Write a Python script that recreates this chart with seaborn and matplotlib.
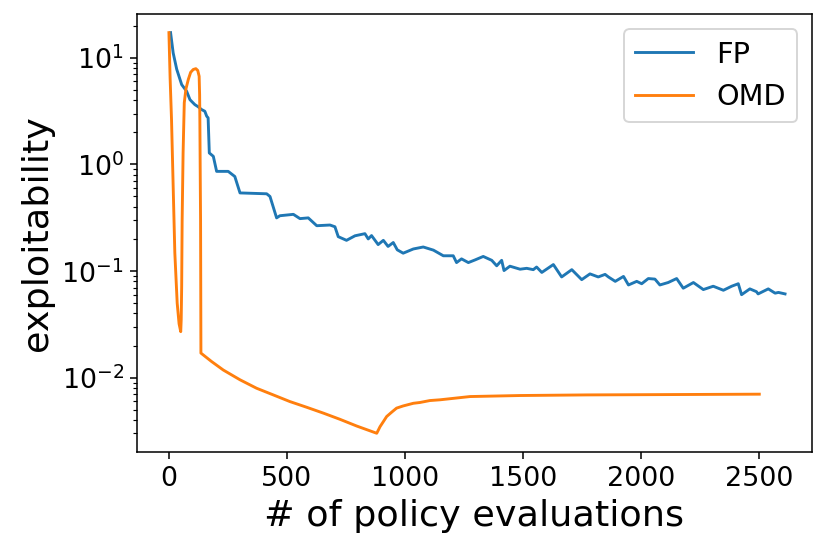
import numpy as np
import pandas as pd
import matplotlib
matplotlib.use("Agg")
import matplotlib.pyplot as plt
import seaborn as sns

# =========================
# DATA
# =========================
fp_evals = [7, 18, 33, 54, 75, 89, 96, 110, 124, 138, 152, 160, 166, 171, 188, 202,
            251, 279, 301, 414, 428, 456, 470, 527, 555, 590, 626, 682, 703, 717,
            752, 788, 830, 844, 858, 886, 908, 928, 950, 967, 992, 1035, 1077, 1120,
            1162, 1204, 1218, 1239, 1268, 1296, 1331, 1367, 1388, 1409, 1419, 1444,
            1487, 1515, 1543, 1557, 1579, 1628, 1663, 1706, 1748, 1783, 1818, 1847,
            1861, 1890, 1925, 1946, 1981, 2002, 2030, 2058, 2079, 2114, 2150, 2178,
            2221, 2263, 2305, 2348, 2383, 2411, 2425, 2460, 2488, 2495, 2538, 2567,
            2581, 2609]
fp_expl = [17.2, 11.1, 7.8, 5.6, 4.85, 4.05, 3.9, 3.63, 3.47, 3.27, 3.15, 2.83, 2.73,
           1.28, 1.19, 0.86, 0.86, 0.77, 0.54, 0.53, 0.50, 0.315, 0.33, 0.34, 0.31,
           0.315, 0.266, 0.27, 0.26, 0.21, 0.194, 0.214, 0.224, 0.20, 0.215, 0.177,
           0.194, 0.17, 0.185, 0.158, 0.147, 0.161, 0.168, 0.157, 0.139, 0.139, 0.12,
           0.13, 0.12, 0.127, 0.137, 0.126, 0.112, 0.126, 0.101, 0.111, 0.104, 0.106,
           0.103, 0.109, 0.097, 0.115, 0.088, 0.103, 0.083, 0.094, 0.088, 0.093,
           0.088, 0.080, 0.089, 0.074, 0.080, 0.076, 0.085, 0.084, 0.074, 0.078,
           0.085, 0.069, 0.078, 0.067, 0.072, 0.066, 0.072, 0.076, 0.060, 0.068,
           0.064, 0.061, 0.068, 0.062, 0.063, 0.061]

omd_evals = [0, 5, 11, 18, 25, 35, 43, 50, 52, 54, 55, 56, 60, 65, 72, 82, 92, 103,
             114, 122, 128, 130, 131, 133, 134, 135.5, 180, 230, 301, 371, 442, 512,
             583, 654, 724, 795, 880, 894, 908, 922, 943, 964, 992, 1035, 1063, 1105,
             1148, 1275, 1487, 1769, 2051, 2500]
omd_expl = [17.2, 6.5, 2.63, 0.62, 0.148, 0.050, 0.032, 0.027, 0.035, 0.072, 0.15,
            0.30, 1.28, 3.78, 5.1, 6.25, 7.3, 7.76, 7.9, 7.6, 6.7, 4.5, 2.63, 0.6,
            0.30, 0.017, 0.0142, 0.0118, 0.00955, 0.00796, 0.00689, 0.00597,
            0.00528, 0.00465, 0.00407, 0.00352, 0.00301, 0.00347, 0.00387, 0.00432,
            0.00474, 0.00518, 0.00543, 0.00575, 0.00585, 0.0061, 0.0062, 0.00665,
            0.0068, 0.00689, 0.00693, 0.00700]

SERIES = ["FP", "OMD"]

df = pd.concat([
    pd.DataFrame({"evals": fp_evals, "expl": fp_expl, "method": SERIES[0]}),
    pd.DataFrame({"evals": omd_evals, "expl": omd_expl, "method": SERIES[1]}),
], ignore_index=True)

# =========================
# PLOT
# =========================
fig = plt.figure(figsize=(6, 4), dpi=138.33)
ax = fig.add_axes([0.1654, 0.1826, 0.8126, 0.7908])

sns.lineplot(data=df, x="evals", y="expl", hue="method", hue_order=SERIES,
             palette=["#1f77b4", "#ff7f0e"], sort=False, estimator=None,
             linewidth=1.5, ax=ax)

ax.set_yscale("log")
ax.set_xlim(-134, 2722)
ax.set_ylim(0.00201, 25.5)
ax.set_xticks([0, 500, 1000, 1500, 2000, 2500])
ax.tick_params(labelsize=14)
ax.set_xlabel("# of policy evaluations", fontsize=19)
ax.set_ylabel("exploitability", fontsize=19)
ax.legend(title=None, fontsize=15, loc="upper right")

fig.savefig("out.png", dpi=138.33)
plt.close(fig)
